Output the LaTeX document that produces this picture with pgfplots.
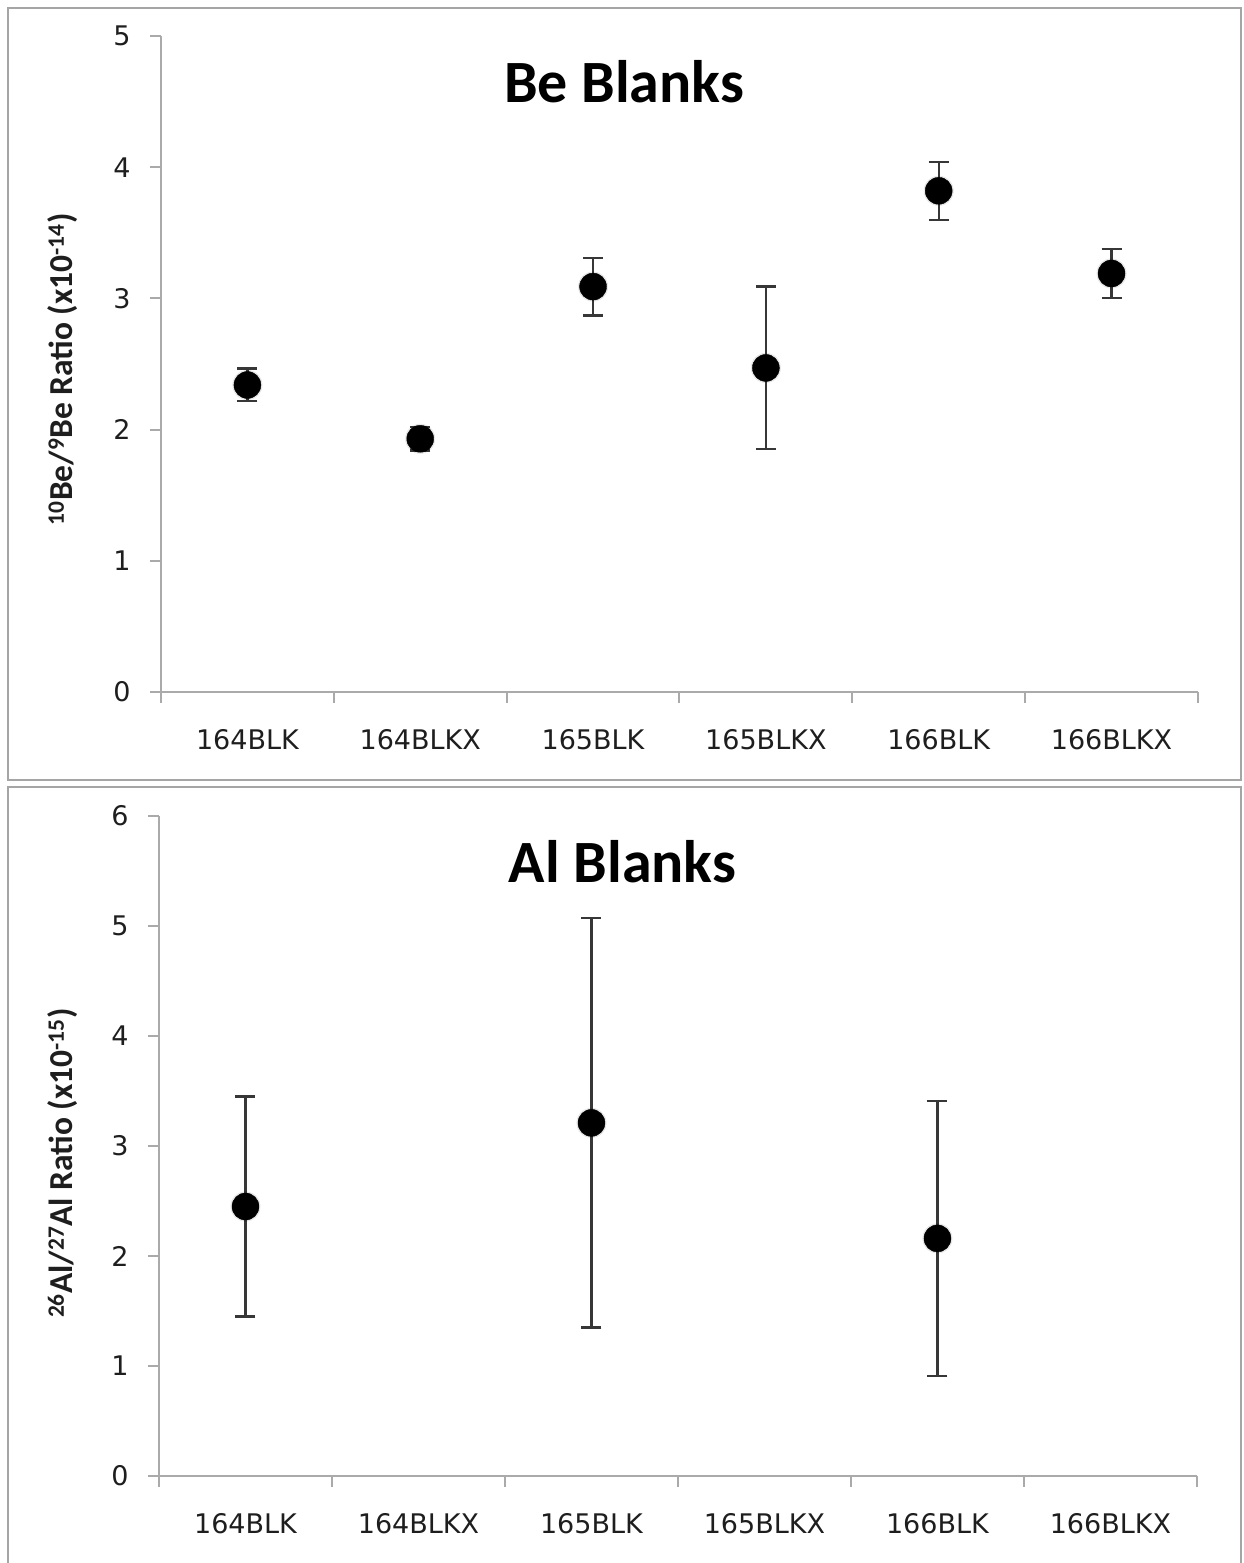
\documentclass[border=0pt]{standalone}
\usepackage{pgfplots}
\pgfplotsset{compat=1.18}
\usepackage{pgfplotstable}
\usepackage{fontspec}
\setmainfont{DejaVu Sans}
\newfontfamily\carlito{Carlito}
\definecolor{axgray}{RGB}{170,170,170}
\definecolor{boxgray}{RGB}{165,165,165}
\definecolor{ebar}{RGB}{55,55,55}
\definecolor{txt}{RGB}{30,30,30}

\pgfplotstableread{
x y e
0 2.34 0.125
1 1.93 0.09
2 3.09 0.22
3 2.47 0.62
4 3.82 0.22
5 3.19 0.185
}\bedata
\pgfplotstableread{
x y e
0 2.45 1.00
2 3.21 1.86
4 2.16 1.25
}\aldata

\pgfplotsset{panel/.style={
  scale only axis,
  xmin=-0.5, xmax=5.5,
  ymin=0,
  axis lines*=left,
  axis line style={axgray, line width=2pt},
  xtick={0,...,5},
  xticklabels={164BLK,164BLKX,165BLK,165BLKX,166BLK,166BLKX},
  minor xtick={-0.5,0.5,...,5.5},
  major x tick style={draw=none},
  minor x tick style={axgray, line width=2pt},
  minor tick length=11pt,
  major tick length=11pt,
  ytick style={axgray, line width=2pt},
  tick align=outside,
  tick label style={font=\fontsize{27}{31}\selectfont, text=txt},
  xticklabel style={yshift=-23pt},
  yticklabel style={xshift=-16pt},
  /pgf/number format/assume math mode=true,
  ylabel style={font=\carlito\bfseries\fontsize{33.5}{38}\selectfont, text=txt, anchor=center},
  title style={font=\carlito\bfseries\fontsize{60}{66}\selectfont, text=black, anchor=base},
  clip=false,
}}

\begin{document}
\begin{tikzpicture}[x=1pt,y=1pt]
\path[use as bounding box] (0,0) rectangle (1243,-1563);
\draw[boxgray, line width=2pt] (8,-8) rectangle (1241,-780);
\draw[boxgray, line width=2pt] (8,-787) rectangle (1241,-1570);

\begin{axis}[panel,
  at={(161pt,-692pt)}, anchor=south west,
  width=1037pt, height=656pt,
  ymax=5, ytick={0,...,5},
  title={Be Blanks},
  title style={at={(axis description cs:0.4465,0.890)}},
  ylabel={\textsuperscript{10}Be/\textsuperscript{9}Be Ratio (x10\textsuperscript{-14})},
  ylabel style={at={(axis description cs:-0.0945,0.492)}},
]
\addplot[only marks, mark=*, mark size=14.8pt, black, opacity=0.07] table[x=x,y=y] {\bedata};
\addplot[only marks, mark=*, mark size=13.5pt, black,
  error bars/.cd, y dir=both, y explicit,
  error bar style={ebar, line width=2.2pt},
  error mark options={ebar, line width=2.2pt, mark size=10pt, rotate=90}]
  table[x=x,y=y,y error=e] {\bedata};
\end{axis}

\begin{axis}[panel,
  at={(159pt,-1476pt)}, anchor=south west,
  width=1038pt, height=660pt,
  ymax=6, ytick={0,...,6},
  title={Al Blanks},
  title style={at={(axis description cs:0.4465,0.8905)}},
  ylabel={\textsuperscript{26}Al/\textsuperscript{27}Al Ratio (x10\textsuperscript{-15})},
  ylabel style={at={(axis description cs:-0.0925,0.474)}},
]
\addplot[only marks, mark=*, mark size=14.8pt, black, opacity=0.07] table[x=x,y=y] {\aldata};
\addplot[only marks, mark=*, mark size=13.5pt, black,
  error bars/.cd, y dir=both, y explicit,
  error bar style={ebar, line width=2.2pt},
  error mark options={ebar, line width=2.2pt, mark size=10pt, rotate=90}]
  table[x=x,y=y,y error=e] {\aldata};
\end{axis}
\end{tikzpicture}
\end{document}
